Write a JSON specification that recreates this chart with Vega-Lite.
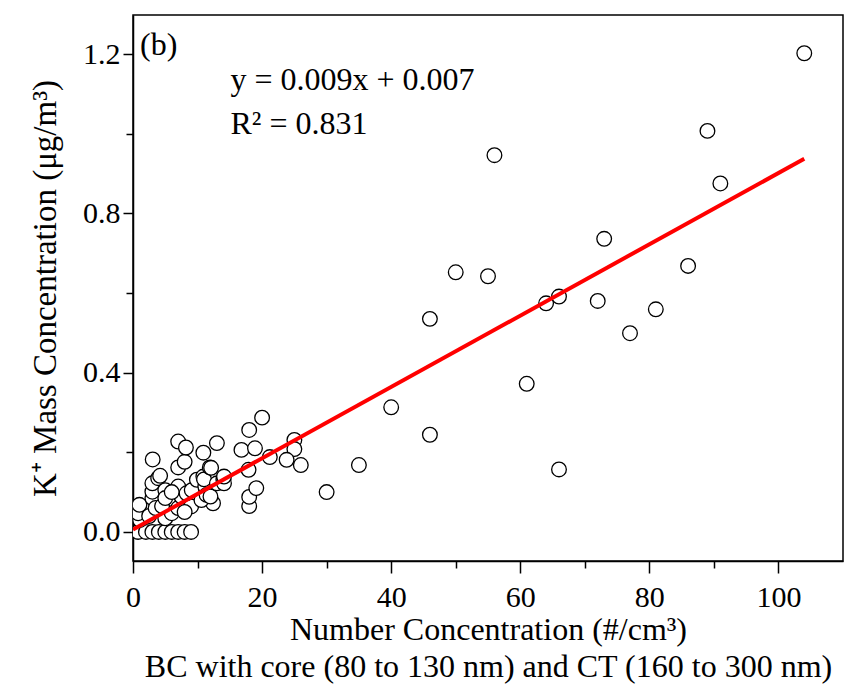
{
  "$schema": "https://vega.github.io/schema/vega-lite/v6.json",
  "width": 710,
  "height": 546,
  "autosize": {"type": "none"},
  "padding": {"left": 133, "top": 15, "right": 2, "bottom": 124},
  "background": "white",
  "config": {
    "view": {"stroke": "black", "strokeWidth": 1.5},
    "font": "Liberation Serif",
    "axis": {
      "grid": false,
      "domainColor": "black",
      "domainWidth": 1.5,
      "tickColor": "black",
      "tickWidth": 1.5,
      "labelColor": "black",
      "titleColor": "black",
      "labelFont": "Liberation Serif",
      "titleFont": "Liberation Serif",
      "labelFontSize": 30,
      "titleFontSize": 32,
      "titleFontWeight": "normal",
      "labelOverlap": false,
      "labelFlush": false
    }
  },
  "layer": [
    {
      "data": {"values": [
        {"x": 104, "y": 1.202}, {"x": 89, "y": 1.007}, {"x": 91, "y": 0.875}, {"x": 56, "y": 0.946},
        {"x": 73, "y": 0.736}, {"x": 86, "y": 0.668}, {"x": 50, "y": 0.652}, {"x": 55, "y": 0.642},
        {"x": 46, "y": 0.535}, {"x": 64, "y": 0.574}, {"x": 66, "y": 0.591}, {"x": 72, "y": 0.58},
        {"x": 81, "y": 0.559}, {"x": 77, "y": 0.499}, {"x": 61, "y": 0.372}, {"x": 40, "y": 0.313},
        {"x": 46, "y": 0.244}, {"x": 66, "y": 0.157}, {"x": 35, "y": 0.168}, {"x": 30, "y": 0.1},
        {"x": 26, "y": 0.168}, {"x": 25, "y": 0.231}, {"x": 25, "y": 0.208}, {"x": 23.8, "y": 0.181},
        {"x": 0.8, "y": 0}, {"x": 2, "y": 0}, {"x": 3, "y": 0}, {"x": 4, "y": 0}, {"x": 5, "y": 0},
        {"x": 6, "y": 0}, {"x": 7, "y": 0}, {"x": 8, "y": 0}, {"x": 9, "y": 0},
        {"x": 1.1, "y": 0.03}, {"x": 0.8, "y": 0.047}, {"x": 1, "y": 0.068}, {"x": 2.5, "y": 0.04},
        {"x": 3, "y": 0.085}, {"x": 3.5, "y": 0.06}, {"x": 5, "y": 0.034}, {"x": 6, "y": 0.047},
        {"x": 4.5, "y": 0.065}, {"x": 7, "y": 0.06}, {"x": 7.5, "y": 0.089}, {"x": 9, "y": 0.064},
        {"x": 8, "y": 0.05}, {"x": 12.4, "y": 0.072}, {"x": 10.6, "y": 0.08}, {"x": 18, "y": 0.065},
        {"x": 18, "y": 0.088},
        {"x": 3, "y": 0.101}, {"x": 3, "y": 0.122}, {"x": 3.9, "y": 0.135}, {"x": 4.2, "y": 0.141},
        {"x": 5, "y": 0.105}, {"x": 5, "y": 0.085}, {"x": 7, "y": 0.114}, {"x": 8.3, "y": 0.097},
        {"x": 9.1, "y": 0.105}, {"x": 9.9, "y": 0.131}, {"x": 10.9, "y": 0.139}, {"x": 11.2, "y": 0.114},
        {"x": 11.4, "y": 0.093}, {"x": 11, "y": 0.132}, {"x": 12, "y": 0.089}, {"x": 13, "y": 0.122},
        {"x": 14, "y": 0.131}, {"x": 14.1, "y": 0.122}, {"x": 14.1, "y": 0.139}, {"x": 19.1, "y": 0.11},
        {"x": 6, "y": 0.1},
        {"x": 3.05, "y": 0.182}, {"x": 7, "y": 0.162}, {"x": 8, "y": 0.176}, {"x": 7, "y": 0.227},
        {"x": 8.2, "y": 0.212}, {"x": 10.9, "y": 0.199}, {"x": 11.9, "y": 0.162}, {"x": 12.1, "y": 0.161},
        {"x": 13, "y": 0.223}, {"x": 16.8, "y": 0.206}, {"x": 18.9, "y": 0.21}, {"x": 17.9, "y": 0.156},
        {"x": 18, "y": 0.256}, {"x": 20, "y": 0.287}, {"x": 21.2, "y": 0.188}
      ]},
      "mark": {"type": "point", "shape": "circle", "filled": true, "fill": "white", "fillOpacity": 1, "stroke": "black", "strokeOpacity": 1, "strokeWidth": 1.3, "size": 215, "clip": true},
      "encoding": {
        "x": {
          "field": "x", "type": "quantitative",
          "scale": {"domain": [0, 110], "nice": false, "zero": false},
          "axis": {
            "title": ["Number Concentration (#/cm³)", "BC with core (80 to 130 nm) and CT (160 to 300 nm)"],
            "values": [0, 10, 20, 30, 40, 50, 60, 70, 80, 90, 100],
            "labelExpr": "datum.value % 20 === 0 ? datum.label : ''",
            "tickSize": {"condition": {"test": "datum.value % 20 === 0", "value": 12}, "value": 7},
            "labelPadding": 9,
            "titlePadding": 2,
            "titleLineHeight": 37
          }
        },
        "y": {
          "field": "y", "type": "quantitative",
          "scale": {"domain": [-0.073, 1.298], "nice": false, "zero": false},
          "axis": {
            "title": "K⁺ Mass Concentration (μg/m³)",
            "values": [0, 0.2, 0.4, 0.6, 0.8, 1.0, 1.2],
            "format": ".1f",
            "labelExpr": "round(datum.value * 10) % 4 === 0 ? datum.label : ''",
            "tickSize": {"condition": {"test": "round(datum.value * 10) % 4 === 0", "value": 10}, "value": 7},
            "labelPadding": 3,
            "titlePadding": 20,
            "titleFontSize": 33
          }
        }
      }
    },
    {
      "data": {"values": [{"x": 0, "y": 0.006}, {"x": 104, "y": 0.937}]},
      "mark": {"type": "line", "color": "#ff0000", "strokeWidth": 4, "clip": true},
      "encoding": {
        "x": {"field": "x", "type": "quantitative"},
        "y": {"field": "y", "type": "quantitative"}
      }
    },
    {
      "data": {"values": [
        {"x": 1.08, "y": 1.198, "t": "(b)"},
        {"x": 15.1, "y": 1.11, "t": "y = 0.009x + 0.007"},
        {"x": 15.1, "y": 1.0, "t": "R² = 0.831"}
      ]},
      "mark": {"type": "text", "align": "left", "baseline": "alphabetic", "font": "Liberation Serif", "fontSize": 32, "color": "black"},
      "encoding": {
        "x": {"field": "x", "type": "quantitative"},
        "y": {"field": "y", "type": "quantitative"},
        "text": {"field": "t"}
      }
    }
  ]
}
